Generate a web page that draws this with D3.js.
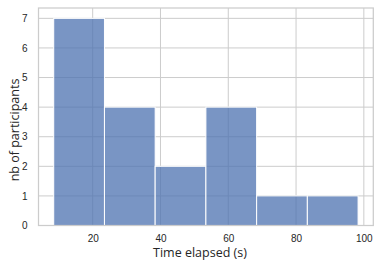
<!DOCTYPE html>
<html><head><meta charset="utf-8">
<script src="https://cdn.jsdelivr.net/npm/d3@7"></script>
<style>body{margin:0;background:#fff}svg{display:block}text{font-family:Arial,"Liberation Sans",sans-serif}</style>
</head><body>
<svg id="c" width="378" height="265"></svg>
<script>
const binEdges = [8.5, 23.47, 38.43, 53.4, 68.37, 83.33, 98.3];
const counts = [7, 4, 2, 4, 1, 1];
const xTicks = [20, 40, 60, 80, 100];
const yTicks = [0, 1, 2, 3, 4, 5, 6, 7];
const xLabel = "Time elapsed (s)";
const yLabel = "nb of participants";

const svg = d3.select("#c");
const L = 38.5, R = 373.3, T = 8, B = 225.5;
const x = d3.scaleLinear().domain([4.01, 102.79]).range([L, R]);
const y = d3.scaleLinear().domain([0, 7.35]).range([B, T]);

const grid = svg.append("g");
grid.selectAll("line.v").data(xTicks).join("line")
  .attr("x1", d => x(d)).attr("x2", d => x(d)).attr("y1", T).attr("y2", B)
  .attr("stroke", "#cccccc").attr("stroke-width", 1);
grid.selectAll("line.h").data(yTicks).join("line")
  .attr("x1", L).attr("x2", R).attr("y1", d => y(d)).attr("y2", d => y(d))
  .attr("stroke", "#cccccc").attr("stroke-width", 1);

svg.append("g").selectAll("rect").data(counts).join("rect")
  .attr("x", (d, i) => x(binEdges[i]))
  .attr("width", (d, i) => x(binEdges[i + 1]) - x(binEdges[i]))
  .attr("y", d => y(d))
  .attr("height", d => y(0) - y(d))
  .attr("fill", "#4c72b0").attr("fill-opacity", 0.75)
  .attr("stroke", "#ffffff").attr("stroke-width", 1);

svg.append("rect").attr("x", L).attr("y", T).attr("width", R - L).attr("height", B - T)
  .attr("fill", "none").attr("stroke", "#cccccc").attr("stroke-width", 1.25);

const xa = svg.append("g").attr("transform", `translate(0,${B})`)
  .call(d3.axisBottom(x).tickValues(xTicks).tickSize(0).tickPadding(9));
xa.select(".domain").remove();
xa.selectAll("text").attr("font-size", 10).attr("fill", "#262626").style("font-family", "Arial, 'Liberation Sans', sans-serif");

const ya = svg.append("g").attr("transform", `translate(${L},0)`)
  .call(d3.axisLeft(y).tickValues(yTicks).tickSize(0).tickPadding(11));
ya.select(".domain").remove();
ya.selectAll("text").attr("font-size", 10).attr("fill", "#262626").style("font-family", "Arial, 'Liberation Sans', sans-serif");

svg.append("text").attr("x", 200).attr("y", 257).attr("text-anchor", "middle")
  .style("font-family", "'Open Sans', sans-serif")
  .attr("font-size", 12.5).attr("fill", "#262626").text(xLabel);
svg.append("text").attr("transform", `translate(19,130) rotate(-90)`)
  .style("font-family", "'Open Sans', sans-serif")
  .attr("text-anchor", "middle").attr("font-size", 12.5).attr("fill", "#262626").text(yLabel);
</script>
</body></html>
